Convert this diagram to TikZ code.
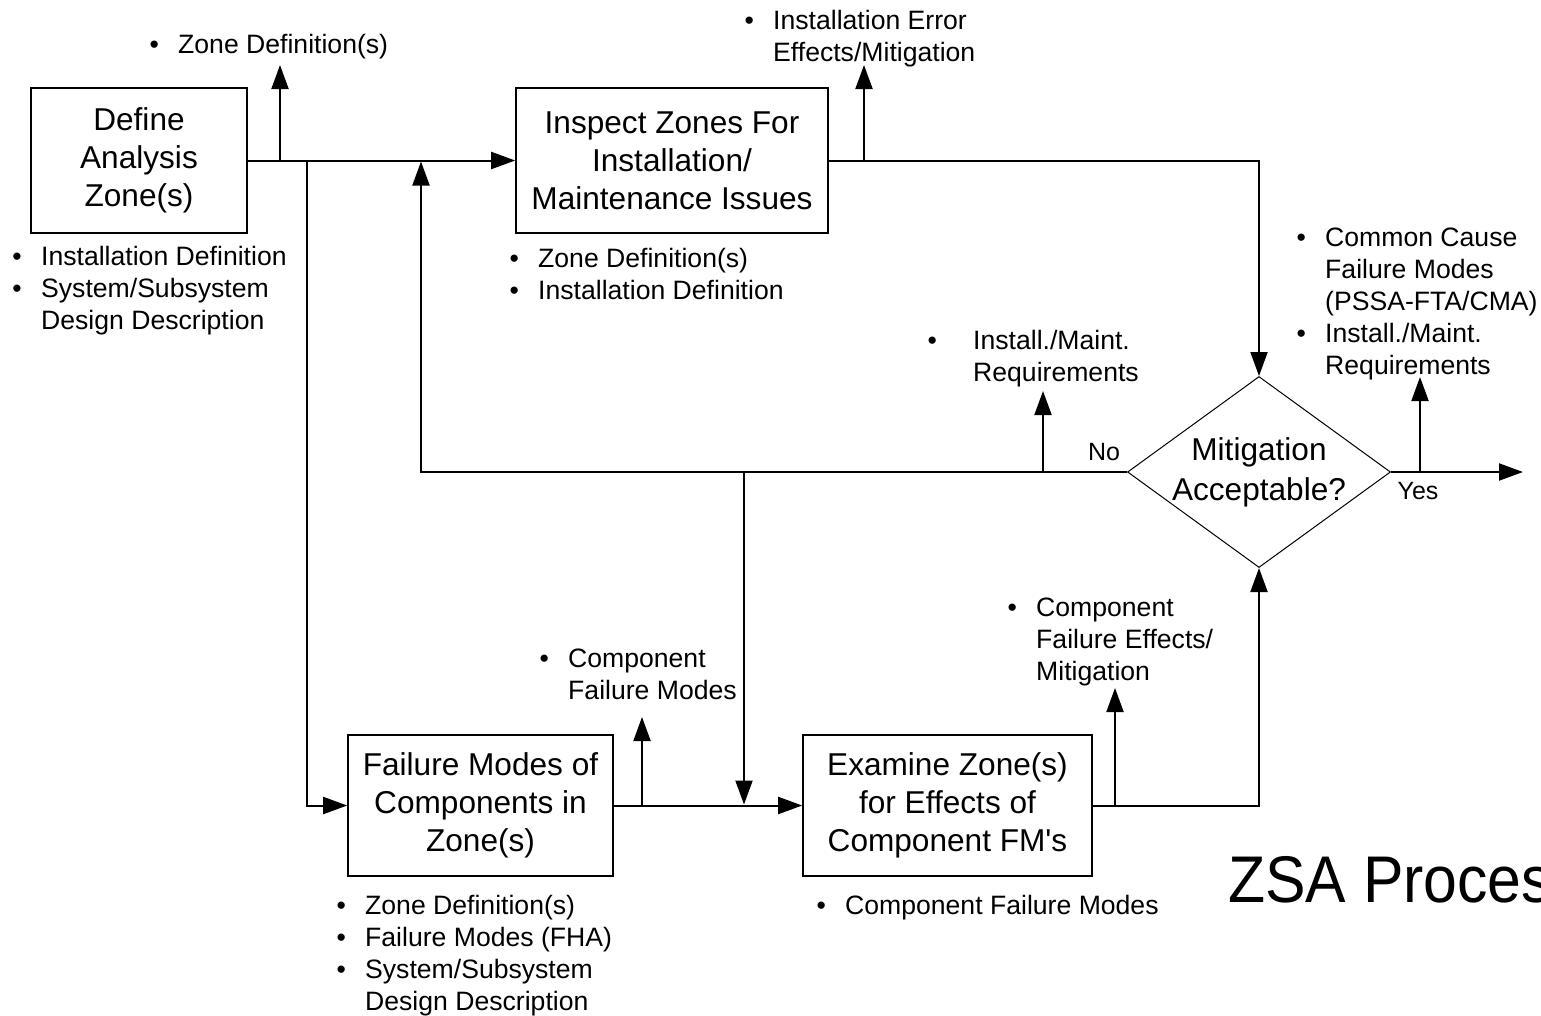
\documentclass[tikz,border=0pt]{standalone}
\usepackage{fontspec}
\setmainfont{Liberation Sans}
\usetikzlibrary{arrows.meta,shapes.geometric}

% bulleted item and its continuation line
\newcommand{\itm}[2][28.7pt]{\makebox[#1][l]{\textbullet}#2}
\newcommand{\cnt}[2][28.7pt]{\hspace*{#1}#2}
\newcommand{\itemfont}{\fontsize{26.6}{32}\selectfont}
\newcommand{\boxfont}{\fontsize{31.6}{38}\selectfont}

\begin{document}
\begin{tikzpicture}[x=1pt,y=-1pt,
  stepbox/.style={draw, line width=1.6pt, rectangle, inner sep=0pt, align=center, font=\boxfont},
  conn/.style={line width=2pt},
  arr/.style={conn, -{Triangle[length=24pt,width=17pt]}},
  items/.style={anchor=base west, inner sep=0pt, font=\itemfont},
  lbl/.style={anchor=base, inner sep=0pt, font=\fontsize{25}{29}\selectfont}]
\useasboundingbox (0,0) rectangle (1541,1015);
\clip (0,0) rectangle (1541,1015);

% process boxes
\node[stepbox, minimum width=216pt, minimum height=145pt] (def) at (139,160.5)
  {Define\\Analysis\\Zone(s)};
\node[stepbox, minimum width=312pt, minimum height=145pt] (insp) at (672,160.5)
  {Inspect Zones For\\Installation/\\Maintenance Issues};
\node[stepbox, minimum width=265pt, minimum height=141pt] (fm) at (480.5,805.5)
  {Failure Modes of\\Components in\\Zone(s)};
\node[stepbox, minimum width=289pt, minimum height=141pt] (exam) at (947.5,805.5)
  {Examine Zone(s)\\for Effects of\\Component FM\textquotesingle s};

% decision
\node[diamond, draw, line width=1pt, inner sep=0pt, minimum width=263pt, minimum height=191pt] (dec) at (1259,472) {};
\node[align=center, inner sep=0pt, font=\fontsize{31.6}{40}\selectfont] (dectxt) at (dec.center) {Mitigation\\Acceptable?};

% junctions and free arrow ends
\coordinate (s1) at (280,160.5);
\coordinate (t1) at (280,65);
\coordinate (s2) at (307,160.5);
\coordinate (s3) at (864,160.5);
\coordinate (t3) at (864,65);
\coordinate (back) at (421,161.5);
\coordinate (s4) at (1043,472);
\coordinate (t4) at (1043,391);
\coordinate (s5) at (744,472);
\coordinate (t5) at (744,804.5);
\coordinate (s6) at (642,805.5);
\coordinate (t6) at (642,717);
\coordinate (s7) at (1115,805.5);
\coordinate (t7) at (1115,688);
\coordinate (s8) at (1420,472);
\coordinate (t8) at (1420,377);
\coordinate (out) at (1523,472);

% connectors
\draw[arr] (def.east) -- (insp.west);
\draw[arr] (s1) -- (t1);
\draw[arr] (s2) |- (fm.west);
\draw[arr] (insp.east) -| (dec.north);
\draw[arr] (s3) -- (t3);
\draw[arr] (dec.west) -| (back);
\draw[arr] (s4) -- (t4);
\draw[arr] (s5) -- (t5);
\draw[arr] (fm.east) -- (exam.west);
\draw[arr] (s6) -- (t6);
\draw[arr] (exam.east) -| (dec.south);
\draw[arr] (s7) -- (t7);
\draw[arr] (dec.east) -- (out);
\draw[arr] (s8) -- (t8);

% branch labels
\node[lbl] (no) at (1104,460) {No};
\node[lbl] (yes) at (1418,499) {Yes};

% inputs and outputs
\node[items] (l1) at (149.3,53) {\begin{tabular}[t]{@{}l@{}}\itm{Zone Definition(s)}\end{tabular}};
\node[items] (l2) at (744.3,29) {\begin{tabular}[t]{@{}l@{}}\itm{Installation Error}\\\cnt{Effects/Mitigation}\end{tabular}};
\node[items] (l3) at (12.3,265) {\begin{tabular}[t]{@{}l@{}}\itm{Installation Definition}\\\itm{System/Subsystem}\\\cnt{Design Description}\end{tabular}};
\node[items] (l4) at (509.3,267) {\begin{tabular}[t]{@{}l@{}}\itm{Zone Definition(s)}\\\itm{Installation Definition}\end{tabular}};
\node[items] (l5) at (1296.3,246) {\begin{tabular}[t]{@{}l@{}}\itm{Common Cause}\\\cnt{Failure Modes}\\\cnt{(PSSA-FTA/CMA)}\\\itm{Install./Maint.}\\\cnt{Requirements}\end{tabular}};
\node[items] (l6) at (927.3,349) {\begin{tabular}[t]{@{}l@{}}\itm[45.7pt]{Install./Maint.}\\\cnt[45.7pt]{Requirements}\end{tabular}};
\node[items] (l7) at (539.3,667) {\begin{tabular}[t]{@{}l@{}}\itm{Component}\\\cnt{Failure Modes}\end{tabular}};
\node[items] (l8) at (1007.3,616) {\begin{tabular}[t]{@{}l@{}}\itm{Component}\\\cnt{Failure Effects/}\\\cnt{Mitigation}\end{tabular}};
\node[items] (l9) at (336.3,914) {\begin{tabular}[t]{@{}l@{}}\itm{Zone Definition(s)}\\\itm{Failure Modes (FHA)}\\\itm{System/Subsystem}\\\cnt{Design Description}\end{tabular}};
\node[items] (l10) at (816.3,914) {\begin{tabular}[t]{@{}l@{}}\itm{Component Failure Modes}\end{tabular}};

% title, running off the right edge
\node[anchor=base west, inner sep=0pt, xscale=0.92, font=\fontsize{66}{79}\selectfont] (title) at (1228,902) {ZSA Process};
\end{tikzpicture}
\end{document}
